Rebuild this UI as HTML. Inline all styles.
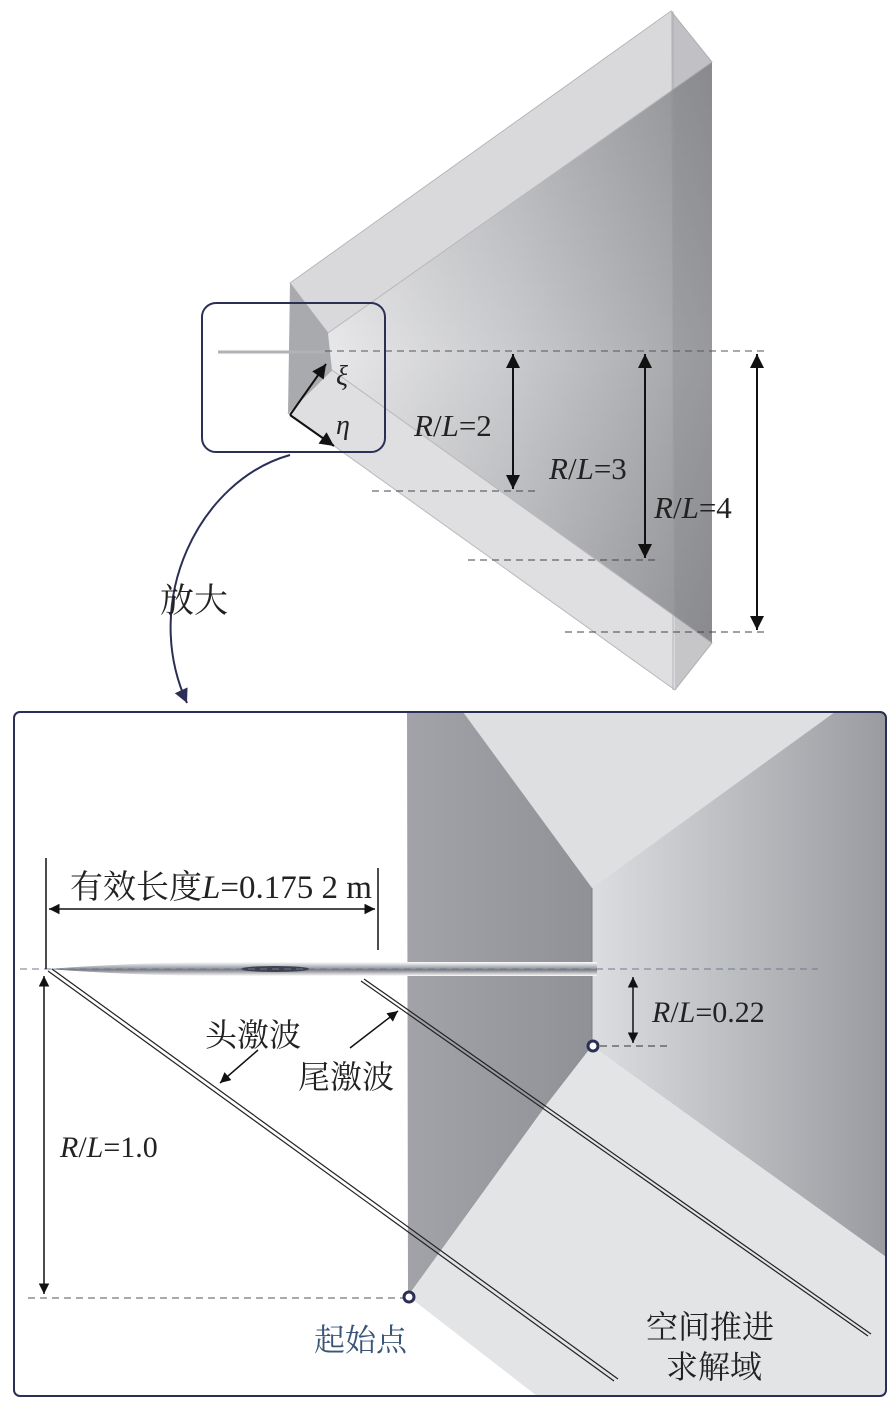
<!DOCTYPE html>
<html><head><meta charset="utf-8"><style>
html,body{margin:0;padding:0;background:#fff;}
svg{display:block;}
text{font-family:"Liberation Serif","Noto Serif CJK SC",serif;fill:#222;}
</style></head><body>
<svg width="894" height="1426" viewBox="0 0 894 1426" xmlns="http://www.w3.org/2000/svg">
<defs>
<linearGradient id="cone" x1="0" y1="0" x2="1" y2="0">
<stop offset="0" stop-color="#e8e8ea"/><stop offset="0.5" stop-color="#c8c9cc"/><stop offset="1" stop-color="#a2a3a7"/></linearGradient>
<linearGradient id="coneV" x1="0" y1="0" x2="0" y2="1">
<stop offset="0" stop-color="#000" stop-opacity="0.12"/><stop offset="0.5" stop-color="#000" stop-opacity="0"/><stop offset="1" stop-color="#000" stop-opacity="0.12"/></linearGradient>
<linearGradient id="strip" x1="0" y1="0" x2="1" y2="0">
<stop offset="0" stop-color="#a2a3a8"/><stop offset="1" stop-color="#909196"/></linearGradient>
<linearGradient id="rgt" x1="0" y1="0" x2="1" y2="0">
<stop offset="0" stop-color="#dcdde0"/><stop offset="1" stop-color="#9a9ba0"/></linearGradient>
<linearGradient id="needle" x1="0" y1="0" x2="0" y2="1">
<stop offset="0" stop-color="#ffffff"/><stop offset="0.45" stop-color="#9a9da5"/><stop offset="0.55" stop-color="#7a7d85"/><stop offset="1" stop-color="#ffffff"/></linearGradient>
<marker id="ah" viewBox="0 0 10 10" refX="10" refY="5" markerWidth="8" markerHeight="7" orient="auto-start-reverse"><path d="M0,0 L10,5 L0,10 z" fill="#111"/></marker>
<marker id="ahb" viewBox="0 0 10 10" refX="10" refY="5" markerWidth="7" markerHeight="7" orient="auto"><path d="M0,0 L10,5 L0,10 z" fill="#2b2f55"/></marker>
</defs>

<!-- TOP PRISM -->
<polygon points="328,333 712,62 712,643 332,370" fill="url(#cone)"/>
<polygon points="328,333 712,62 712,643 332,370" fill="url(#coneV)"/>
<polygon points="290,283 671,11 712,62 328,333" fill="#d9d9dc" stroke="#b8b8bc"/>
<polygon points="288,413 332,370 712,643 675,690" fill="#dfdfe2" stroke="#b8b8bc"/>
<polygon points="290,283 328,333 332,370 288,413" fill="#a9aaae"/>
<polygon points="671,11 712,62 712,643 675,690" fill="#7a7b80" fill-opacity="0.25"/>
<line x1="673" y1="11" x2="673" y2="690" stroke="#9a9ba0" stroke-opacity="0.6"/>
<line x1="218" y1="352" x2="325" y2="352" stroke="#b0b2b8" stroke-width="3"/>
<line x1="325" y1="351" x2="765" y2="351" stroke="#555" stroke-dasharray="7,5"/>
<rect x="202" y="303" width="183" height="149" rx="14" fill="none" stroke="#2b2f55" stroke-width="2"/>
<line x1="290" y1="415" x2="326" y2="364" stroke="#111" stroke-width="2" marker-end="url(#ah)"/>
<line x1="290" y1="415" x2="334" y2="446" stroke="#111" stroke-width="2" marker-end="url(#ah)"/>
<text x="336" y="385" font-size="28" font-style="italic">ξ</text>
<text x="336" y="434" font-size="28" font-style="italic">η</text>
<line x1="513" y1="354" x2="513" y2="489" stroke="#111" stroke-width="2" marker-start="url(#ah)" marker-end="url(#ah)"/>
<line x1="645" y1="354" x2="645" y2="558" stroke="#111" stroke-width="2" marker-start="url(#ah)" marker-end="url(#ah)"/>
<line x1="757" y1="354" x2="757" y2="630" stroke="#111" stroke-width="2" marker-start="url(#ah)" marker-end="url(#ah)"/>
<line x1="372" y1="491" x2="535" y2="491" stroke="#444" stroke-dasharray="7,5"/>
<line x1="468" y1="560" x2="660" y2="560" stroke="#444" stroke-dasharray="7,5"/>
<line x1="565" y1="632" x2="765" y2="632" stroke="#444" stroke-dasharray="7,5"/>
<text x="414" y="436" font-size="31"><tspan font-style="italic">R</tspan>/<tspan font-style="italic">L</tspan>=2</text>
<text x="549" y="479" font-size="31"><tspan font-style="italic">R</tspan>/<tspan font-style="italic">L</tspan>=3</text>
<text x="654" y="518" font-size="31"><tspan font-style="italic">R</tspan>/<tspan font-style="italic">L</tspan>=4</text>
<path d="M290,455 C200,480 140,600 187,703" fill="none" stroke="#2b2f55" stroke-width="2" marker-end="url(#ahb)"/>
<text x="160" y="612" font-size="34">放大</text>

<!-- BOTTOM PANEL -->
<clipPath id="bc"><rect x="14" y="712" width="872" height="684" rx="6"/></clipPath>
<g clip-path="url(#bc)">
<rect x="14" y="712" width="872" height="684" fill="#fff"/>
<polygon points="592,712 886,712 886,1257 592,1046" fill="url(#rgt)"/>
<polygon points="407,712 592,712 592,1046 547,1104 408,1296" fill="url(#strip)"/>
<polygon points="463,712 835,712 592,888" fill="#dedfe1"/>
<polygon points="592,1046 886,1257 886,1396 537,1396 408,1296 547,1104" fill="#e3e4e6"/>
<line x1="592" y1="888" x2="592" y2="1046" stroke="#7d7e83"/>
</g>
<rect x="14" y="712" width="872" height="684" rx="6" fill="none" stroke="#2b2f55" stroke-width="2"/>
<!-- needle -->
<path d="M48,969 Q150,961 270,962 L597,962 L597,976 L270,976 Q150,977 48,969 z" fill="url(#needle)"/>
<ellipse cx="275" cy="969" rx="35" ry="3" fill="#3e4250"/>
<line x1="20" y1="969" x2="818" y2="969" stroke="#6a7a8e" stroke-dasharray="7,5"/>
<!-- length dim -->
<line x1="46" y1="858" x2="46" y2="969" stroke="#111" stroke-width="1.5"/>
<line x1="378" y1="868" x2="378" y2="950" stroke="#111" stroke-width="1.5"/>
<line x1="49" y1="909" x2="375" y2="909" stroke="#111" stroke-width="1.5" marker-start="url(#ah)" marker-end="url(#ah)"/>
<text x="70" y="898" font-size="33">有效长度<tspan font-style="italic">L</tspan>=0.175 2 m</text>
<!-- shocks -->
<g stroke="#222" stroke-width="1.2" fill="none">
<line x1="48" y1="971" x2="614" y2="1381"/><line x1="52" y1="969" x2="618" y2="1379"/>
<line x1="361" y1="981" x2="868" y2="1336"/><line x1="364" y1="979" x2="871" y2="1334"/>
</g>
<line x1="258" y1="1050" x2="220" y2="1083" stroke="#111" stroke-width="1.5" marker-end="url(#ah)"/>
<line x1="350" y1="1048" x2="398" y2="1011" stroke="#111" stroke-width="1.5" marker-end="url(#ah)"/>
<text x="205" y="1046" font-size="32">头激波</text>
<text x="298" y="1088" font-size="32">尾激波</text>
<!-- R/L=1.0 -->
<line x1="44" y1="976" x2="44" y2="1294" stroke="#111" stroke-width="1.5" marker-start="url(#ah)" marker-end="url(#ah)"/>
<text x="60" y="1157" font-size="30"><tspan font-style="italic">R</tspan>/<tspan font-style="italic">L</tspan>=1.0</text>
<line x1="28" y1="1298" x2="403" y2="1298" stroke="#555" stroke-dasharray="7,5"/>
<circle cx="409" cy="1297" r="5" fill="#fff" stroke="#2b2f55" stroke-width="3"/>
<text x="314" y="1351" font-size="31" style="fill:#3a5578">起始点</text>
<!-- R/L=0.22 -->
<line x1="633" y1="977" x2="633" y2="1043" stroke="#111" stroke-width="1.5" marker-start="url(#ah)" marker-end="url(#ah)"/>
<line x1="600" y1="1046" x2="670" y2="1046" stroke="#333" stroke-dasharray="7,5"/>
<circle cx="593" cy="1046" r="5" fill="#fff" stroke="#2b2f55" stroke-width="3"/>
<text x="652" y="1022" font-size="30"><tspan font-style="italic">R</tspan>/<tspan font-style="italic">L</tspan>=0.22</text>
<text x="646" y="1338" font-size="32">空间推进</text>
<text x="666" y="1378" font-size="32">求解域</text>
</svg>
</body></html>
